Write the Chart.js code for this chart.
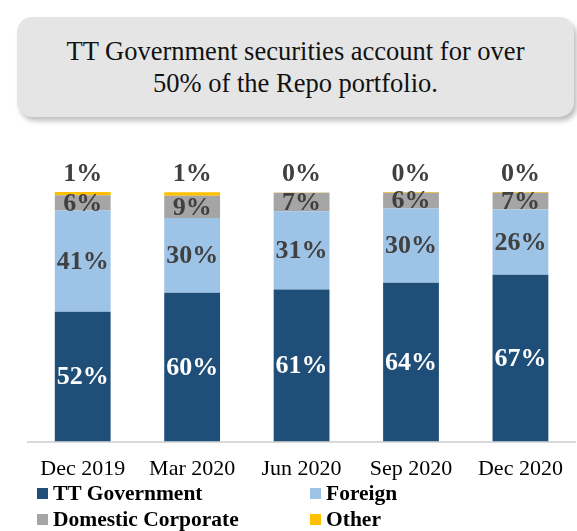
<!DOCTYPE html>
<html>
<head>
<meta charset="utf-8">
<script src="https://cdn.jsdelivr.net/npm/chart.js@4/dist/chart.umd.min.js"></script>
<style>
  html, body { margin: 0; padding: 0; background: #fff; }
  body { width: 577px; height: 531px; position: relative; overflow: hidden; }
  .serif { font-family: 'Liberation Serif', 'Times New Roman', Times, serif; }
  .titulo {
    position: absolute; left: 17px; top: 17px; width: 557px; height: 100px;
    background: #e5e5e5; border-radius: 15px;
    box-shadow: 3px 4px 5px rgba(0,0,0,0.25);
    display: flex; align-items: center; justify-content: center; text-align: center;
    font-size: 26.5px; line-height: 32px; color: #111;
  }
  .grafico { position: absolute; left: 0; top: 140px; width: 577px; height: 356px; }
  .legenda { position: absolute; left: 0; top: 480px; width: 577px; height: 51px; }
  .legenda .item { position: absolute; display: flex; align-items: center;
                   font-weight: bold; font-size: 21.5px; line-height: 24px; color: #000; white-space: nowrap; }
  .legenda .caixa { width: 11px; height: 11px; margin-right: 5px; }
</style>
</head>
<body>
<div class="titulo serif">TT Government securities account for over<br>50% of the Repo portfolio.</div>
<div class="grafico"><canvas id="repo"></canvas></div>
<div class="legenda serif" id="legenda"></div>

<script>
  // Repo portfolio composition (% of total)
  const periodos = ['Dec 2019', 'Mar 2020', 'Jun 2020', 'Sep 2020', 'Dec 2020'];
  const ttGov = [52.0, 59.6, 60.9, 63.6, 66.8];
  const estrangeiro = [40.6, 30.0, 31.4, 29.8, 26.2];
  const corporativo = [6.1, 8.9, 7.4, 6.3, 6.7];
  const outros = [1.3, 1.4, 0.1, 0.3, 0.3];

  const cores = {
    gov: '#1f4e79',
    estrangeiro: '#9dc3e6',
    corporativo: '#a5a5a5',
    outros: '#ffc000',
    rotulo: '#404040',
    eixo: '#d9d9d9',
  };

  const fonteSerif = "'Liberation Serif', 'Times New Roman', Times, serif";

  // Percent labels: inside each segment, "Other" sits above the bar
  const rotulos = {
    id: 'rotulos',
    afterDatasetsDraw(chart) {
      const ctx = chart.ctx;
      ctx.save();
      ctx.font = 'bold 26px ' + fonteSerif;
      ctx.textAlign = 'center';
      ctx.textBaseline = 'middle';
      chart.data.datasets.forEach((ds, i) => {
        const meta = chart.getDatasetMeta(i);
        meta.data.forEach((bar, j) => {
          const txt = Math.round(ds.data[j]) + '%';
          ctx.fillStyle = ds.corTexto;
          if (ds.acima) {
            ctx.fillText(txt, bar.x, bar.y - 18);
          } else {
            ctx.fillText(txt, bar.x, (bar.y + bar.base) / 2 + 1);
          }
        });
      });
      ctx.restore();
    },
  };

  const grafico = new Chart(document.getElementById('repo'), {
    type: 'bar',
    data: {
      labels: periodos,
      datasets: [
        { label: 'TT Government', data: ttGov, backgroundColor: cores.gov, corTexto: '#ffffff' },
        { label: 'Foreign', data: estrangeiro, backgroundColor: cores.estrangeiro, corTexto: cores.rotulo },
        { label: 'Domestic Corporate', data: corporativo, backgroundColor: cores.corporativo, corTexto: cores.rotulo },
        { label: 'Other', data: outros, backgroundColor: cores.outros, corTexto: cores.rotulo, acima: true },
      ],
    },
    options: {
      responsive: true,
      maintainAspectRatio: false,
      animation: false,
      layout: { padding: { top: 52, left: 28, right: 1, bottom: 0 } },
      datasets: { bar: { barPercentage: 0.51, categoryPercentage: 1, borderWidth: 0 } },
      plugins: {
        legend: { display: false },
        tooltip: { enabled: false },
      },
      scales: {
        x: {
          stacked: true,
          grid: { display: false, drawTicks: false },
          border: { color: cores.eixo, width: 2 },
          ticks: {
            color: '#000',
            padding: 14,
            font: { family: fonteSerif, size: 22 },
            maxRotation: 0,
            autoSkip: false,
          },
        },
        y: { stacked: true, display: false, min: 0, max: 100 },
      },
    },
    plugins: [rotulos],
  });

  // Two-column legend under the axis
  const posicoes = [
    { left: 37, top: 1 },
    { left: 310, top: 1 },
    { left: 37, top: 27 },
    { left: 310, top: 27 },
  ];
  const legenda = document.getElementById('legenda');
  grafico.data.datasets.forEach((ds, i) => {
    const item = document.createElement('div');
    item.className = 'item';
    item.style.left = posicoes[i].left + 'px';
    item.style.top = posicoes[i].top + 'px';
    item.innerHTML = '<span class="caixa" style="background:' + ds.backgroundColor + '"></span>' + ds.label;
    legenda.appendChild(item);
  });
</script>
</body>
</html>
